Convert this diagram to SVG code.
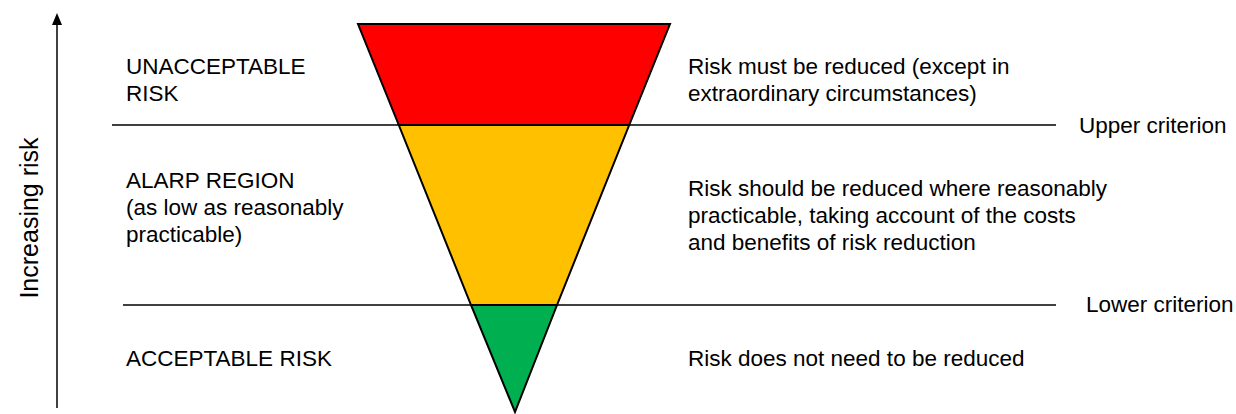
<svg xmlns="http://www.w3.org/2000/svg" width="1236" height="414" viewBox="0 0 1236 414">
<style>
text{font-family:"Liberation Sans",Arial,sans-serif;font-size:22.5px;fill:#000}
.band{stroke:#000;stroke-width:2;stroke-linejoin:miter}
.crit{stroke:#000;stroke-width:1.5}
</style>
<rect width="1236" height="414" fill="#fff"/>
<g id="connectors">
<line class="crit" x1="112" y1="125" x2="1056" y2="125"/>
<line class="crit" x1="123" y1="305" x2="1056" y2="305"/>
<line x1="57" y1="408" x2="57" y2="16" stroke="#000" stroke-width="1.5"/>
<path d="M52,25 L57,13 L62,25 Z" fill="#000"/>
</g>
<g id="triangle">
<polygon class="band" fill="#ff0000" points="358,24 670,24 629.2,125 398.8,125"/>
<polygon class="band" fill="#ffc000" points="398.8,125 629.2,125 557,305 471,305"/>
<polygon class="band" fill="#00b050" points="471,305 557,305 515,412"/>
</g>
<g id="axis-label"><text transform="translate(38,218) rotate(-90)" text-anchor="middle" style="font-size:25px">Increasing risk</text></g>
<g id="unacceptable">
<text x="126" y="74">UNACCEPTABLE</text>
<text x="126" y="101">RISK</text>
<text x="688" y="74">Risk must be reduced (except in</text>
<text x="688" y="101">extraordinary circumstances)</text>
</g>
<g id="alarp">
<text x="126" y="188">ALARP REGION</text>
<text x="126" y="215">(as low as reasonably</text>
<text x="126" y="242">practicable)</text>
<text x="688" y="196">Risk should be reduced where reasonably</text>
<text x="688" y="223">practicable, taking account of the costs</text>
<text x="688" y="250">and benefits of risk reduction</text>
</g>
<g id="acceptable">
<text x="126" y="366">ACCEPTABLE RISK</text>
<text x="688" y="366">Risk does not need to be reduced</text>
</g>
<g id="criteria">
<text x="1079" y="133">Upper criterion</text>
<text x="1086" y="312">Lower criterion</text>
</g>
</svg>
